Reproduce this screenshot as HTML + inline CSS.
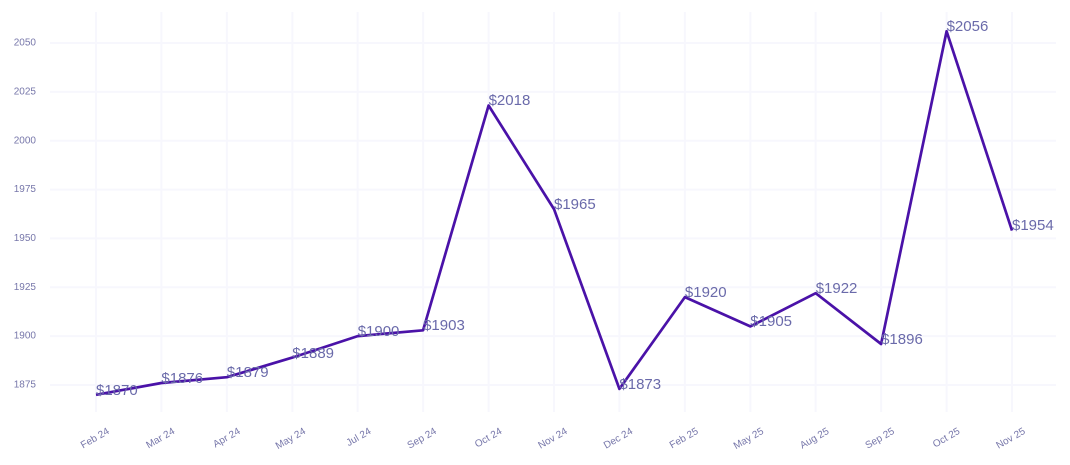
<!DOCTYPE html>
<html><head><style>body{margin:0;background:#fff}svg{display:block}</style></head><body>
<svg width="1070" height="465" xmlns="http://www.w3.org/2000/svg" font-family="Liberation Sans, sans-serif">
<g stroke="#f7f7fd" stroke-width="2">
<line x1="50" x2="1056" y1="43" y2="43"/><line x1="50" x2="1056" y1="91.9" y2="91.9"/><line x1="50" x2="1056" y1="140.7" y2="140.7"/><line x1="50" x2="1056" y1="189.6" y2="189.6"/><line x1="50" x2="1056" y1="238.4" y2="238.4"/><line x1="50" x2="1056" y1="287.3" y2="287.3"/><line x1="50" x2="1056" y1="336.1" y2="336.1"/><line x1="50" x2="1056" y1="385" y2="385"/>
<line y1="12" y2="412" x1="96" x2="96"/><line y1="12" y2="412" x1="161.4" x2="161.4"/><line y1="12" y2="412" x1="226.9" x2="226.9"/><line y1="12" y2="412" x1="292.3" x2="292.3"/><line y1="12" y2="412" x1="357.7" x2="357.7"/><line y1="12" y2="412" x1="423.1" x2="423.1"/><line y1="12" y2="412" x1="488.6" x2="488.6"/><line y1="12" y2="412" x1="554" x2="554"/><line y1="12" y2="412" x1="619.4" x2="619.4"/><line y1="12" y2="412" x1="684.9" x2="684.9"/><line y1="12" y2="412" x1="750.3" x2="750.3"/><line y1="12" y2="412" x1="815.7" x2="815.7"/><line y1="12" y2="412" x1="881.1" x2="881.1"/><line y1="12" y2="412" x1="946.6" x2="946.6"/><line y1="12" y2="412" x1="1012" x2="1012"/>
</g>
<g fill="#7777aa" font-size="10" text-anchor="end" dominant-baseline="middle">
<text x="36" y="43">2050</text><text x="36" y="91.9">2025</text><text x="36" y="140.7">2000</text><text x="36" y="189.6">1975</text><text x="36" y="238.4">1950</text><text x="36" y="287.3">1925</text><text x="36" y="336.1">1900</text><text x="36" y="385">1875</text>
</g>
<g fill="#7777aa" font-size="10" text-anchor="end">
<text transform="translate(110,433) rotate(-30)">Feb 24</text><text transform="translate(175.4,433) rotate(-30)">Mar 24</text><text transform="translate(240.9,433) rotate(-30)">Apr 24</text><text transform="translate(306.3,433) rotate(-30)">May 24</text><text transform="translate(371.7,433) rotate(-30)">Jul 24</text><text transform="translate(437.1,433) rotate(-30)">Sep 24</text><text transform="translate(502.6,433) rotate(-30)">Oct 24</text><text transform="translate(568,433) rotate(-30)">Nov 24</text><text transform="translate(633.4,433) rotate(-30)">Dec 24</text><text transform="translate(698.9,433) rotate(-30)">Feb 25</text><text transform="translate(764.3,433) rotate(-30)">May 25</text><text transform="translate(829.7,433) rotate(-30)">Aug 25</text><text transform="translate(895.1,433) rotate(-30)">Sep 25</text><text transform="translate(960.6,433) rotate(-30)">Oct 25</text><text transform="translate(1026,433) rotate(-30)">Nov 25</text>
</g>
<polyline fill="none" stroke="#4a12a8" stroke-width="2.7" stroke-linejoin="round" points="96,394.8 161.4,383 226.9,377.2 292.3,357.6 357.7,336.1 423.1,330.3 488.6,105.5 554,209.1 619.4,388.9 684.9,297.1 750.3,326.4 815.7,293.2 881.1,344 946.6,31.3 1012,230.6"/>
<g fill="#6a6aaa" font-size="15" dominant-baseline="middle">
<text x="96" y="391">$1870</text><text x="161.4" y="379">$1876</text><text x="226.9" y="373">$1879</text><text x="292.3" y="354">$1889</text><text x="357.7" y="332">$1900</text><text x="423.1" y="326">$1903</text><text x="488.6" y="101">$2018</text><text x="554" y="205">$1965</text><text x="619.4" y="385">$1873</text><text x="684.9" y="293">$1920</text><text x="750.3" y="322">$1905</text><text x="815.7" y="289">$1922</text><text x="881.1" y="340">$1896</text><text x="946.6" y="27">$2056</text><text x="1012" y="226">$1954</text>
</g>
</svg>
</body></html>
